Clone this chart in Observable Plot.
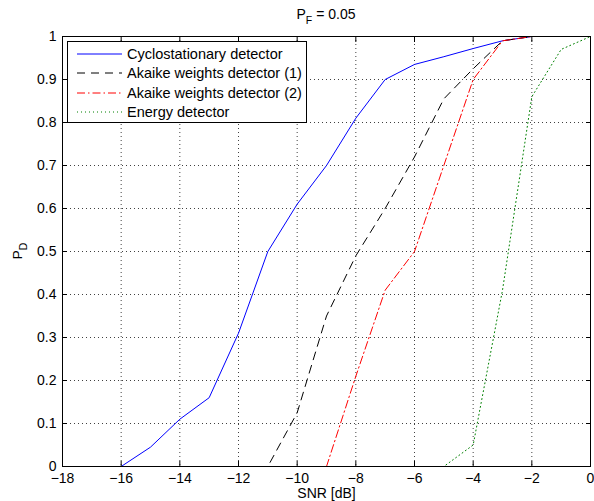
<!DOCTYPE html>
<html>
<head>
<meta charset="utf-8">
<script src="https://cdn.jsdelivr.net/npm/d3@7"></script>
<script src="https://cdn.jsdelivr.net/npm/@observablehq/plot@0.6"></script>
<style>
  html, body { margin: 0; padding: 0; background: white; }
  #wrap { position: relative; width: 594px; height: 501px; font-family: "Liberation Sans", Arial, Helvetica, sans-serif; color: black; }
  #title { position: absolute; left: 326px; top: 7px; transform: translateX(-50%); font-size: 14px; line-height: 14px; white-space: nowrap; }
  #ylabel { position: absolute; left: 18px; top: 251px; transform: translate(-50%, -50%) rotate(-90deg); font-size: 13.5px; line-height: 14px; white-space: nowrap; }
  .sub { font-size: 10.5px; position: relative; top: 5px; }
  #legend { position: absolute; left: 67px; top: 41px; width: 238px; height: 80px; border: 1px solid black; background: white; }
  .row { position: absolute; left: 0; height: 20px; display: flex; align-items: center; font-size: 14.5px; white-space: nowrap; }
  .row svg { margin-left: 9px; margin-right: 5px; }
</style>
</head>
<body>
<div id="wrap">
  <div id="plot"></div>
  <div id="title">P<span class="sub">F</span> = 0.05</div>
  <div id="ylabel">P<span class="sub">D</span></div>
  <div id="legend"></div>
</div>
<script>
// ---- data ----
const snr = [-18, -17, -16, -15, -14, -13, -12, -11, -10, -9, -8, -7, -6, -5, -4, -3, -2, -1, 0];
const cyclostationary = [0, 0, 0, 0.045, 0.11, 0.16, 0.31, 0.50, 0.61, 0.70, 0.81, 0.90, 0.935, 0.953, 0.972, 0.99, 1, 1, 1];
const akaike1 = [0, 0, 0, 0, 0, 0, 0, 0, 0.125, 0.35, 0.49, 0.60, 0.72, 0.855, 0.925, 0.99, 1, 1, 1];
const akaike2 = [0, 0, 0, 0, 0, 0, 0, 0, 0, 0, 0.21, 0.41, 0.50, 0.70, 0.90, 0.99, 1, 1, 1];
const energy = [0, 0, 0, 0, 0, 0, 0, 0, 0, 0, 0, 0, 0, 0, 0.05, 0.41, 0.86, 0.97, 1];

const seriesNames = ["Cyclostationary detector", "Akaike weights detector (1)", "Akaike weights detector (2)", "Energy detector"];
const seriesValues = [cyclostationary, akaike1, akaike2, energy];
const seriesColors = ["#0000ff", "#000000", "#ff0000", "#008000"];
const seriesDash = [null, "8,6", "8,3,1.5,3", "1,3"];

const xTicks = [-18, -16, -14, -12, -10, -8, -6, -4, -2, 0];
const yTicks = [0, 0.1, 0.2, 0.3, 0.4, 0.5, 0.6, 0.7, 0.8, 0.9, 1];
const yTickLabels = ["0", "0.1", "0.2", "0.3", "0.4", "0.5", "0.6", "0.7", "0.8", "0.9", "1"];
const xLabel = "SNR [dB]";

// ---- build table ----
const rows = [];
seriesNames.forEach((name, i) => {
  snr.forEach((s, j) => rows.push({series: name, snr: s, pd: seriesValues[i][j], idx: i}));
});

const fmtX = d => d < 0 ? "\u2212" + (-d) : String(d);
const fmtY = d => yTickLabels[yTicks.indexOf(d)];

const lineMarks = seriesNames.map((name, i) =>
  Plot.line(rows.filter(r => r.idx === i), {
    x: "snr", y: "pd",
    stroke: seriesColors[i],
    strokeWidth: 1,
    strokeDasharray: seriesDash[i] || undefined
  })
);

const chart = Plot.plot({
  width: 594,
  height: 501,
  marginLeft: 62,
  marginRight: 4,
  marginTop: 36,
  marginBottom: 35,
  style: {fontFamily: "'Liberation Sans', Arial, Helvetica, sans-serif", fontSize: "14px", background: "white", color: "black", overflow: "visible"},
  x: {domain: [-18, 0], label: null},
  y: {domain: [0, 1], label: null},
  marks: [
    Plot.gridX(xTicks, {stroke: "black", strokeOpacity: 0.75, strokeDasharray: "1,3"}),
    Plot.gridY(yTicks, {stroke: "black", strokeOpacity: 0.75, strokeDasharray: "1,3"}),
    ...lineMarks,
    Plot.frame({stroke: "black", strokeWidth: 1}),
    Plot.axisX(xTicks, {anchor: "bottom", tickSize: 5, dy: -5, tickPadding: 7, tickFormat: fmtX, label: null}),
    Plot.axisX(xTicks, {anchor: "top", tickSize: 5, dy: 5, fill: "none", label: null}),
    Plot.axisY(yTicks, {anchor: "left", tickSize: 5, dx: 5, tickPadding: 6, tickFormat: fmtY, label: null}),
    Plot.axisY(yTicks, {anchor: "right", tickSize: 5, dx: -5, fill: "none", label: null}),
    Plot.text([xLabel], {frameAnchor: "bottom", lineAnchor: "middle", dy: 27.5, text: d => d, fontSize: 14})
  ]
});
document.getElementById("plot").appendChild(chart);

// ---- legend ----
const legend = document.getElementById("legend");
const rowTops = [2, 21, 41, 60];
seriesNames.forEach((name, i) => {
  const row = document.createElement("div");
  row.className = "row";
  row.style.top = rowTops[i] + "px";
  const dash = seriesDash[i] ? ` stroke-dasharray="${seriesDash[i]}"` : "";
  row.innerHTML = `<svg width="45" height="4"><line x1="0" y1="2" x2="45" y2="2" stroke="${seriesColors[i]}" stroke-width="1"${dash}/></svg><span>${name}</span>`;
  legend.appendChild(row);
});
</script>
</body>
</html>
